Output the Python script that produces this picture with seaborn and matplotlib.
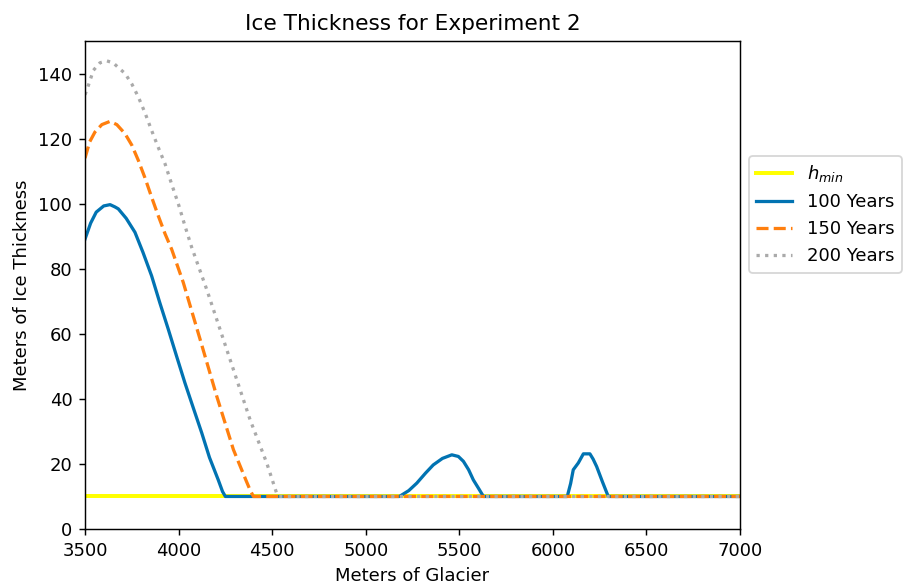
import matplotlib
matplotlib.use("Agg")
import matplotlib.pyplot as plt
import seaborn as sns
import numpy as np

# ---- data ----
hmin_x = [3500, 7000]
hmin_y = [10, 10]

blue_x = [3500, 3530, 3560, 3600, 3634, 3660, 3678, 3720, 3767, 3810, 3856, 3900, 3945,
          3990, 4034, 4080, 4124, 4165, 4212, 4235, 4250,
          5180, 5230, 5273, 5320, 5361, 5410, 5460, 5495, 5522, 5550, 5575, 5605, 5629,
          6077, 6095, 6109, 6136, 6163, 6198, 6215, 6234, 6265, 6296, 7000]
blue_y = [89.1, 94.0, 97.4, 99.3, 99.7, 99.0, 98.4, 95.5, 91.2, 85.0, 77.8, 69.5, 61.4,
          53.0, 44.9, 37.0, 29.5, 22.0, 15.1, 11.5, 10.0,
          10.0, 11.8, 14.1, 17.2, 19.7, 21.7, 22.8, 22.3, 20.8, 18.2, 15.1, 12.3, 10.0,
          10.0, 14.0, 18.2, 20.3, 23.1, 23.1, 21.5, 19.2, 14.5, 10.0, 10.0]

orange_x = [3500, 3525, 3553, 3590, 3634, 3670, 3714, 3750, 3785, 3820, 3856, 3890, 3928,
            3963, 4025, 4115, 4204, 4293, 4360, 4382, 4400, 7000]
orange_y = [114.0, 119.0, 122.0, 124.3, 125.3, 124.3, 121.5, 118.0, 113.3, 108.0, 102.0, 96.5, 90.7,
            86.0, 75.8, 58.3, 40.8, 24.4, 15.0, 12.0, 10.0, 10.0]

gray_x = [3500, 3509, 3545, 3580, 3616, 3650, 3714, 3750, 3785, 3820, 3856, 3890, 3928,
          3963, 3999, 4035, 4070, 4150, 4204, 4293, 4382, 4471, 4524, 4535, 7000]
gray_y = [133.5, 134.8, 141.0, 143.3, 143.9, 143.3, 140.0, 136.8, 132.8, 128.0, 122.5, 117.5, 112.2,
          106.0, 99.9, 93.0, 86.6, 73.7, 64.4, 49.0, 33.6, 20.3, 11.0, 10.0, 10.0]

xticks = [3500, 4000, 4500, 5000, 5500, 6000, 6500, 7000]
yticks = [0, 20, 40, 60, 80, 100, 120, 140]

# ---- plot ----
plt.rcParams['font.family'] = ['DejaVu Sans']
DPI = 130
fig = plt.figure(figsize=(904 / DPI, 588 / DPI), dpi=DPI)
ax = fig.add_axes([85/904, 59/588, 655/904, 488/588])

sns.lineplot(x=hmin_x, y=hmin_y, ax=ax, color="yellow", lw=2.2, label="$h_{min}$")
sns.lineplot(x=blue_x, y=blue_y, ax=ax, color="#0173b2", lw=1.8, label="100 Years", sort=False)
sns.lineplot(x=orange_x, y=orange_y, ax=ax, color="#ff7f0e", lw=1.8, ls="--", label="150 Years", sort=False)
sns.lineplot(x=gray_x, y=gray_y, ax=ax, color="#aaaaaa", lw=1.8, ls=":", label="200 Years", sort=False)

ax.set_xlim(3500, 7000)
ax.set_ylim(0, 150)
ax.set_xticks(xticks)
ax.set_yticks(yticks)
ax.set_title("Ice Thickness for Experiment 2", fontsize=12)
ax.set_xlabel("Meters of Glacier")
ax.set_ylabel("Meters of Ice Thickness")

ax.legend(loc="center left", bbox_to_anchor=(1.0, 0.645), fontsize=10, frameon=True)

fig.savefig("out.png", dpi=DPI)
